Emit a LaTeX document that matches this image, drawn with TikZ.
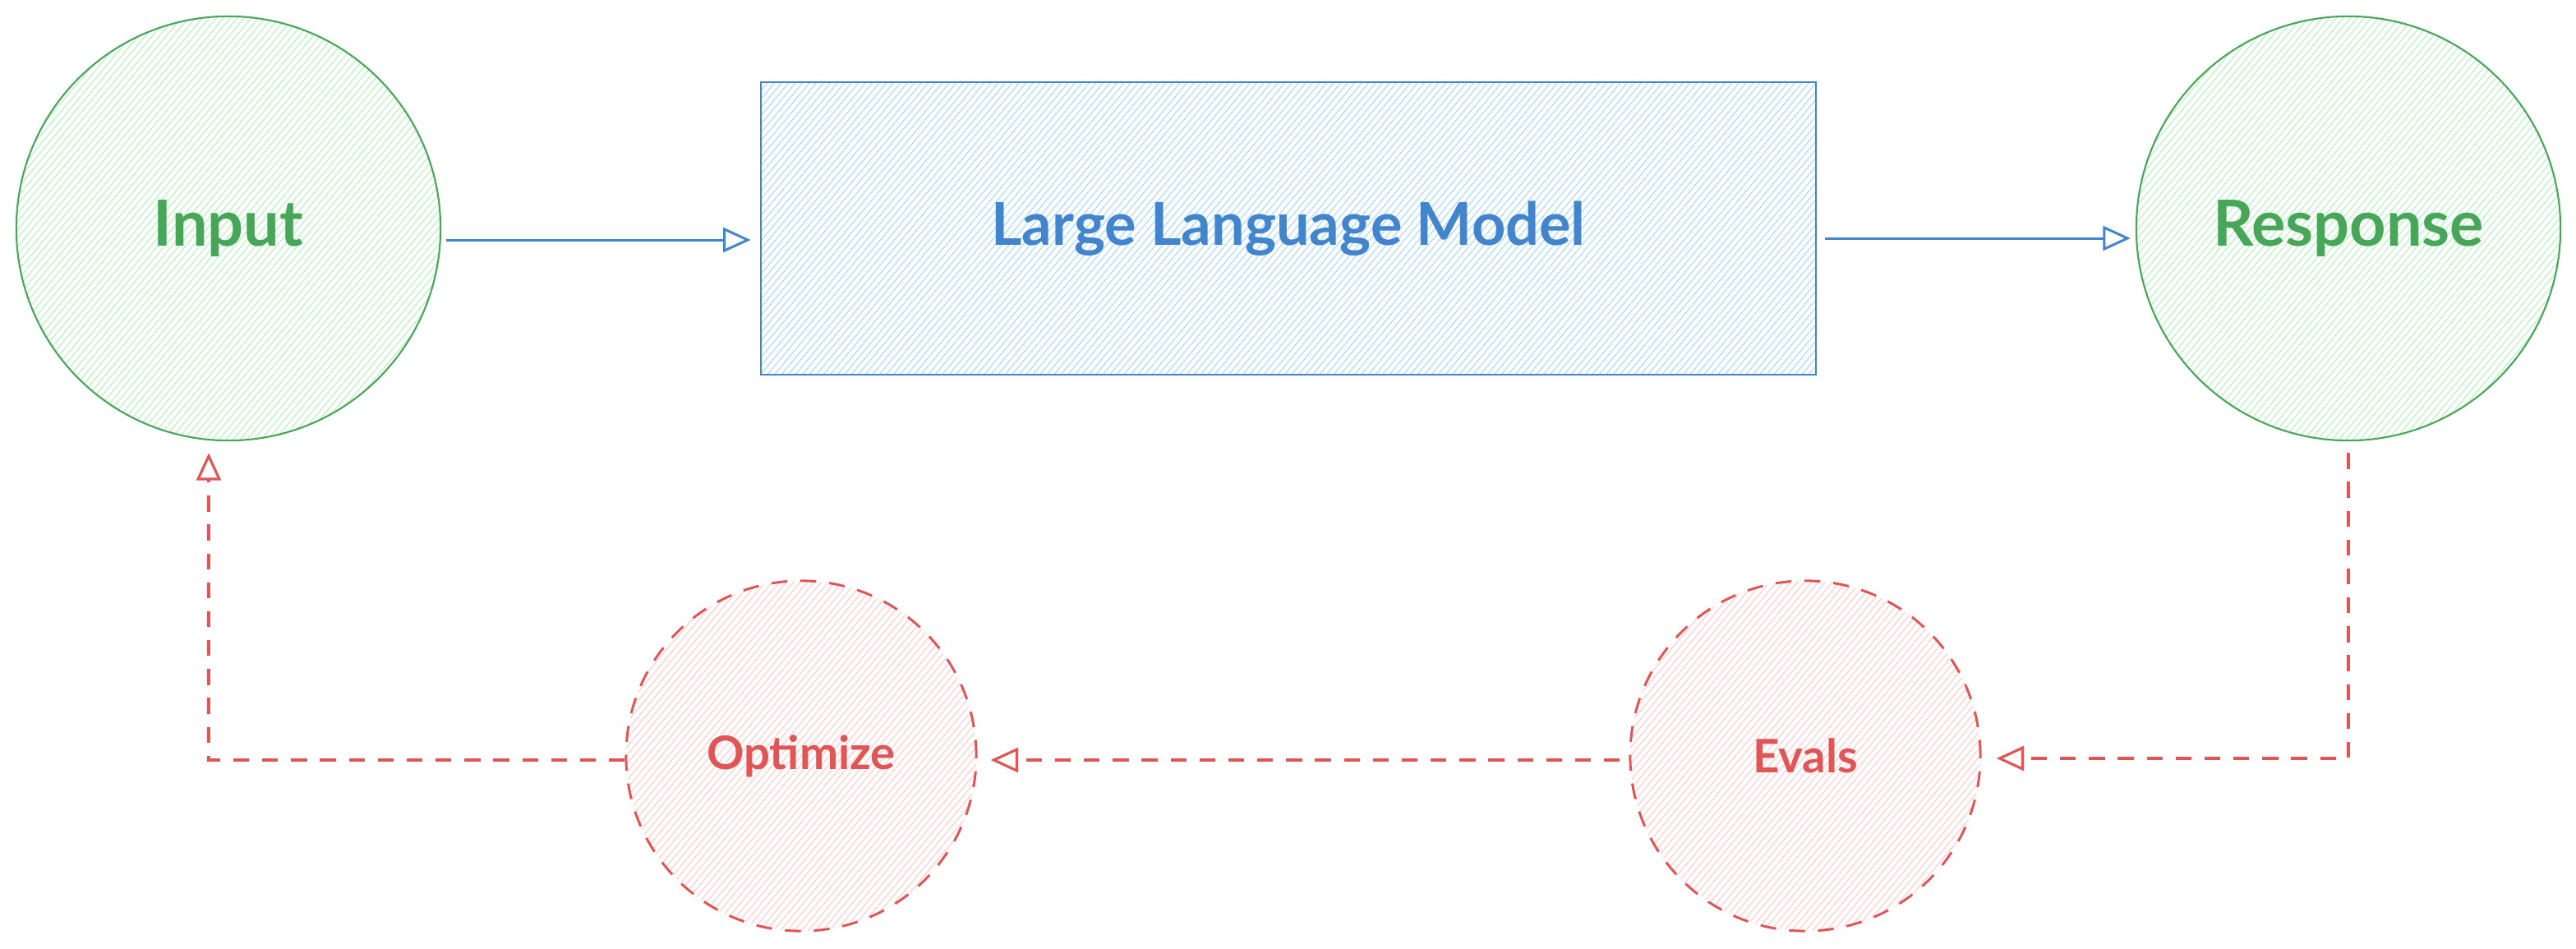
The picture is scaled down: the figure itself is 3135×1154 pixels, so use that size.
\documentclass[tikz,border=0pt]{standalone}
\usepackage{fontspec}
\setmainfont{Lato}
\usetikzlibrary{arrows.meta,calc}
\definecolor{gS}{RGB}{72,166,88}
\definecolor{gH}{HTML}{B2F2BB}
\definecolor{bS}{RGB}{66,133,204}
\definecolor{bH}{HTML}{A5D8FF}
\definecolor{rS}{RGB}{224,86,86}
\definecolor{rH}{HTML}{FFC9C9}
\tikzset{
  hatchfill/.style 2 args={path picture={
    \foreach \k in {-#2,...,#2}{
      \draw[#1, solid, line width=0.3pt] ([shift={(\k*0.085cm,0)}]path picture bounding box.center) ++(230:7cm) -- ++(50:14cm);
    }}},
  bigcirc/.style={circle, draw=gS, line width=0.6pt, minimum size=5.16cm, inner sep=0pt,
    text=gS, font=\fontsize{22}{26}\selectfont\bfseries, hatchfill={gH}{44}},
  redcirc/.style={circle, draw=rS, line width=0.85pt, dash pattern=on 5.5pt off 4.5pt, minimum size=4.26cm, inner sep=0pt,
    text=rS, font=\fontsize{16}{19}\selectfont\bfseries, hatchfill={rH}{37}},
  llmbox/.style={rectangle, draw=bS, line width=0.6pt, minimum width=12.84cm, minimum height=3.56cm, inner sep=0pt,
    text=bS, font=\fontsize{20.5}{26}\selectfont\bfseries, hatchfill={bH}{100}},
  bluearrow/.style={draw=bS, line width=0.85pt, -{Triangle[open, length=9.5pt, width=8.5pt, line width=0.85pt]}},
  redarrow/.style={draw=rS, line width=0.9pt, dash pattern=on 5.5pt off 4.5pt, -{Triangle[open, length=9.5pt, width=8.5pt, line width=0.9pt]}},
}
\begin{document}
\begin{tikzpicture}[x=0.01cm, y=-0.01cm]
\useasboundingbox (0,0) rectangle (3135,1154);
\node[bigcirc] (inp) at (278,278) {Input};
\node[bigcirc] (resp) at (2858,278) {Response};
\node[llmbox] (llm) at (1568,278) {Large Language Model};
\node[redcirc] (evals) at (2197,920) {Evals};
\node[redcirc] (opt) at (975,920) {Optimize};
\draw[bluearrow] ($(inp.east)+(6,14)$) -- ($(llm.west)+(-11,14)$);
\draw[bluearrow] ($(llm.east)+(10,12)$) -- ($(resp.west)+(-6,12)$);
\draw[redarrow] ($(resp.south)+(0,14)$) |- ($(evals.east)+(18,3)$);
\draw[redarrow] ($(evals.west)+(-11,5)$) -- ($(opt.east)+(16,5)$);
\draw[redarrow] ($(opt.west)+(0,5)$) -| ($(inp.south)+(-24,14)$);
\end{tikzpicture}
\end{document}
